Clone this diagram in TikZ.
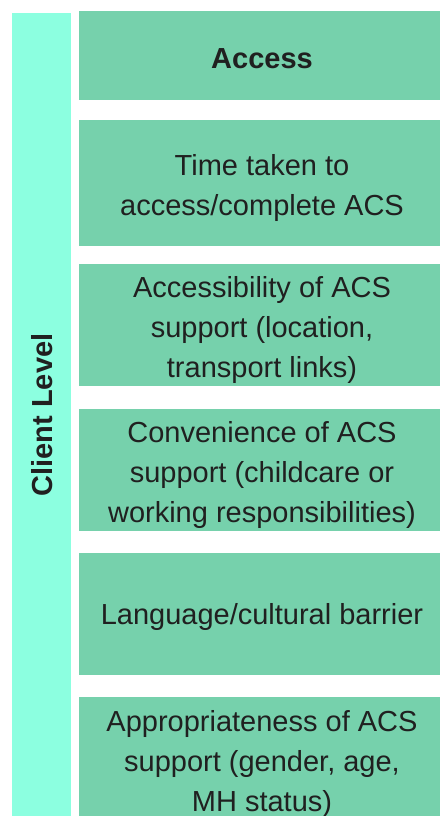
\documentclass[tikz,border=0pt]{standalone}
\usepackage{fontspec}
\setmainfont{Liberation Sans}
\definecolor{barfill}{HTML}{8CFFE0}
\definecolor{boxfill}{HTML}{76D1AC}
\definecolor{ink}{HTML}{202020}
\tikzset{
  lvlbar/.style = {fill=barfill, inner sep=0pt},
  item/.style = {fill=boxfill, text=ink, align=center, inner sep=0pt,
                 minimum width=366pt, text depth=0pt, text height=#1,
                 font=\fontsize{29}{40}\selectfont},
  item/.default = 25pt
}

\begin{document}
\begin{tikzpicture}[x=1pt, y=-1pt]

\useasboundingbox (0,0) rectangle (439,816);

% left column
\node [lvlbar, minimum width=59pt, minimum height=812pt] (lvl) at (41.5,419) {};
\node [rotate=90, text=ink, font=\fontsize{29}{35}\selectfont\bfseries] (lvltext) at (42,415) {Client Level};

% boxes on the right
\node [item, minimum height=89pt] (access) at (262,55.5) {\textbf{Access}};
\node [item=65pt, minimum height=126pt] (time) at (262,183) {Time taken to\\access/complete ACS};
\node [item=105pt, minimum height=122pt] (reach) at (262,325) {Accessibility of ACS\\support (location,\\transport links)};
\node [item=105pt, minimum height=122pt] (conv) at (262,470) {Convenience of ACS\\support (childcare or\\working responsibilities)};
\node [item=21pt, minimum height=122pt] (lang) at (262,614) {Language/cultural barrier};
\node [item=105pt, minimum height=124pt] (approp) at (262,759) {Appropriateness of ACS\\support (gender, age,\\MH status)};

\end{tikzpicture}
\end{document}
